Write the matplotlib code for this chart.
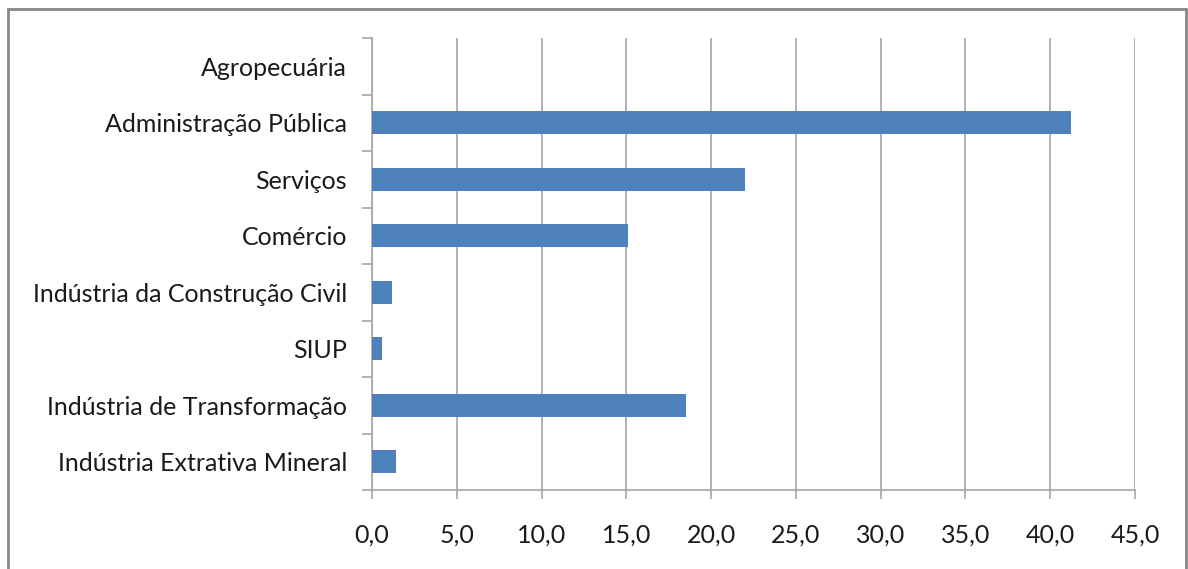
import numpy as np
import matplotlib.pyplot as plt
from matplotlib.patches import Rectangle

# === Data ===
setores = ['Indústria Extrativa Mineral', 'Indústria de Transformação', 'SIUP',
           'Indústria da Construção Civil', 'Comércio', 'Serviços',
           'Administração Pública', 'Agropecuária']
valores = [1.4, 18.5, 0.6, 1.2, 15.1, 22.0, 41.2, 0.0]
xticks = np.arange(0, 46, 5)

plt.rcParams['font.family'] = ['Lato', 'DejaVu Sans']

W, H = 1188, 569
fig = plt.figure(figsize=(W / 100, H / 100), dpi=100)
ax = fig.add_axes([372 / W, 1 - 490 / H, (1135 - 372) / W, (490 - 38) / H])

y = np.arange(len(setores))
ax.barh(y, valores, height=0.41, color='#4F81BD', linewidth=0, zorder=3)

ax.set_xlim(0, 45)
ax.set_ylim(-0.5, len(setores) - 0.5)
ax.set_xticks(xticks)
ax.set_xticklabels([f'{v:.1f}'.replace('.', ',') for v in xticks], fontsize=18, color='#1a1a1a')
ax.grid(axis='x', color='#A6A6A6', linewidth=1.2, zorder=0)

# category labels between tick marks, ticks at boundaries
ax.set_yticks(np.arange(-0.5, len(setores), 1.0))
ax.set_yticklabels([])
ax.set_yticks(y, minor=True)
ax.set_yticklabels(setores, minor=True, fontsize=18, color='#1a1a1a')
ax.tick_params(axis='y', which='minor', length=0, pad=18)
ax.tick_params(axis='y', which='major', length=7, color='#A6A6A6', width=1.2)
ax.tick_params(axis='x', length=6.5, color='#A6A6A6', width=1.2, pad=17.5)

for s in ['top', 'right']:
    ax.spines[s].set_visible(False)
for s in ['left', 'bottom']:
    ax.spines[s].set_color('#A6A6A6')
    ax.spines[s].set_linewidth(1.2)

# outer chart border
fig.patches.append(Rectangle((8 / W, -0.05), (1186 - 8) / W, 1.05 - 9 / H,
                             transform=fig.transFigure, fill=False,
                             edgecolor='#878787', linewidth=2))

fig.savefig('out.png', dpi=100)
